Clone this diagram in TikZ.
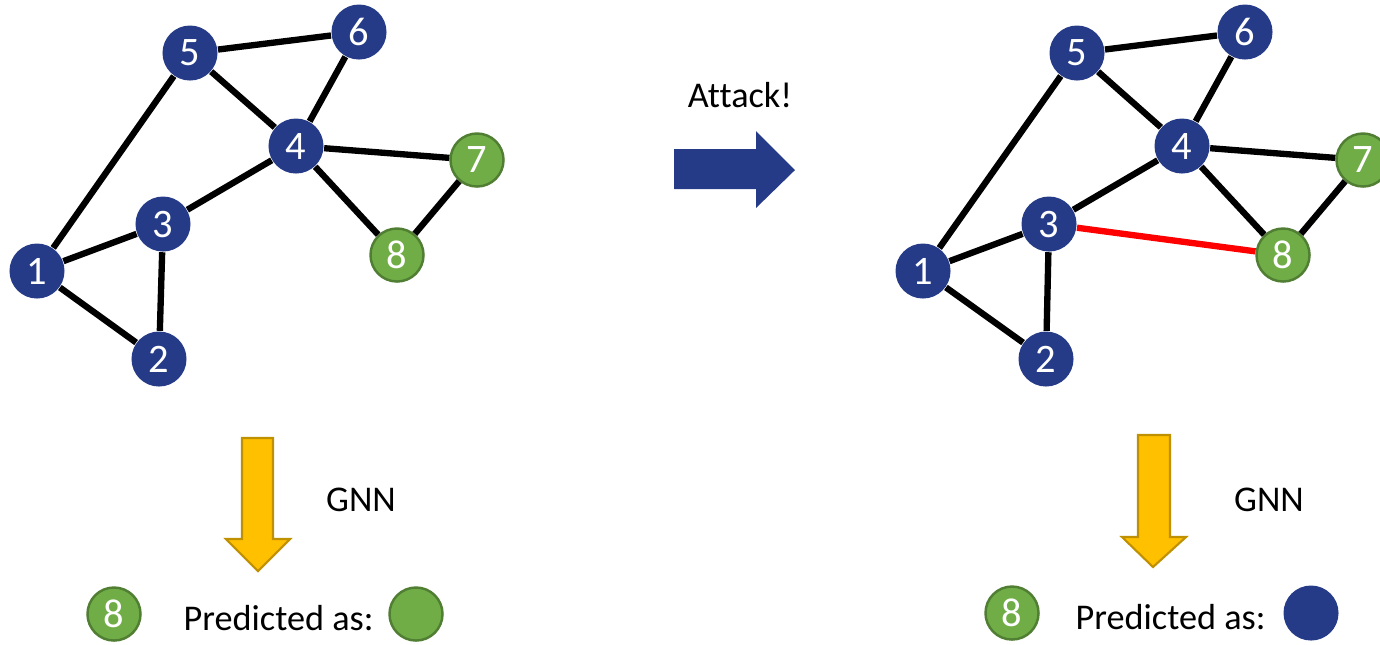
\documentclass[tikz,border=0pt]{standalone}
\usepackage{fontspec}
\setmainfont{Carlito}[Ligatures={NoCommon}]
\definecolor{navy}{HTML}{253B87}
\definecolor{lgreen}{HTML}{70AD47}
\definecolor{dgreen}{HTML}{507E32}
\definecolor{gold}{HTML}{FFC000}
\definecolor{dgold}{HTML}{BF9000}
\definecolor{redge}{HTML}{FF0000}
\tikzset{
  x=0.01cm, y=-0.01cm,
  bnode/.style={circle, fill=navy, draw=none, minimum size=0.55cm, inner sep=0pt, text=white, font=\fontsize{11.5}{13}\selectfont},
  gnode/.style={circle, fill=lgreen, draw=dgreen, line width=0.7pt, minimum size=0.53cm, inner sep=0pt, text=white, font=\fontsize{11.5}{13}\selectfont},
  edge/.style={line width=1.8pt, black},
  redline/.style={line width=1.8pt, redge},
  lbl/.style={font=\fontsize{10.3}{12}\selectfont, text=black, inner sep=0pt},
  bluearrow/.style={fill=navy, draw=none},
  yarrow/.style={fill=gold, draw=dgold, line width=0.6pt, line join=miter},
}
\begin{document}
\begin{tikzpicture}
\useasboundingbox (0,0) rectangle (1380,644);
\clip (0,0) rectangle (1380,644);

% ---------- left graph ----------
\node[bnode] (L1) at (37,271) {1};
\node[bnode] (L2) at (159,359) {2};
\node[bnode] (L3) at (163,224) {3};
\node[bnode] (L4) at (296,146) {4};
\node[bnode] (L5) at (190,53) {5};
\node[bnode] (L6) at (359,32) {6};
\node[gnode] (L7) at (477,160) {7};
\node[gnode] (L8) at (397,255) {8};
\draw[edge] (L1) -- (L5);
\draw[edge] (L1) -- (L3);
\draw[edge] (L1) -- (L2);
\draw[edge] (L3) -- (L2);
\draw[edge] (L3) -- (L4);
\draw[edge] (L5) -- (L4);
\draw[edge] (L5) -- (L6);
\draw[edge] (L6) -- (L4);
\draw[edge] (L4) -- (L7);
\draw[edge] (L4) -- (L8);
\draw[edge] (L8) -- (L7);

% ---------- right graph ----------
\node[bnode] (R1) at (923,271) {1};
\node[bnode] (R2) at (1046,359) {2};
\node[bnode] (R3) at (1049,224) {3};
\node[bnode] (R4) at (1182,146) {4};
\node[bnode] (R5) at (1077,53) {5};
\node[bnode] (R6) at (1245,32) {6};
\node[gnode] (R7) at (1363,160) {7};
\node[gnode] (R8) at (1283,255) {8};
\draw[edge] (R1) -- (R5);
\draw[edge] (R1) -- (R3);
\draw[edge] (R1) -- (R2);
\draw[edge] (R3) -- (R2);
\draw[edge] (R3) -- (R4);
\draw[edge] (R5) -- (R4);
\draw[edge] (R5) -- (R6);
\draw[edge] (R6) -- (R4);
\draw[edge] (R4) -- (R7);
\draw[edge] (R4) -- (R8);
\draw[edge] (R8) -- (R7);
\draw[redline] (R3) -- (R8);

% ---------- attack arrow ----------
\node[lbl] (attack) at (740,95) {Attack!};
\fill[bluearrow] (674,149) -- (756,149) -- (756,131) -- (795,170) -- (756,208) -- (756,189) -- (674,189) -- cycle;

% ---------- GNN arrows ----------
\draw[yarrow] (242,438) -- (273,438) -- (273,539) -- (290,539) -- (258,571) -- (226,539) -- (242,539) -- cycle;
\node[lbl] (gnnL) at (361,500) {GNN};
\draw[yarrow] (1138,435) -- (1170,435) -- (1170,537) -- (1186,537) -- (1153,567) -- (1122,537) -- (1138,537) -- cycle;
\node[lbl] (gnnR) at (1269,500) {GNN};

% ---------- predictions ----------
\node[gnode] (P8L) at (114,614) {8};
\node[lbl, anchor=west] (predL) at (183,618) {Predicted as:};
\node[gnode] (cL) at (416,614) {};
\node[gnode] (P8R) at (1012,613) {8};
\node[lbl, anchor=west] (predR) at (1075,617) {Predicted as:};
\node[bnode] (cR) at (1311,613) {};
\end{tikzpicture}
\end{document}
